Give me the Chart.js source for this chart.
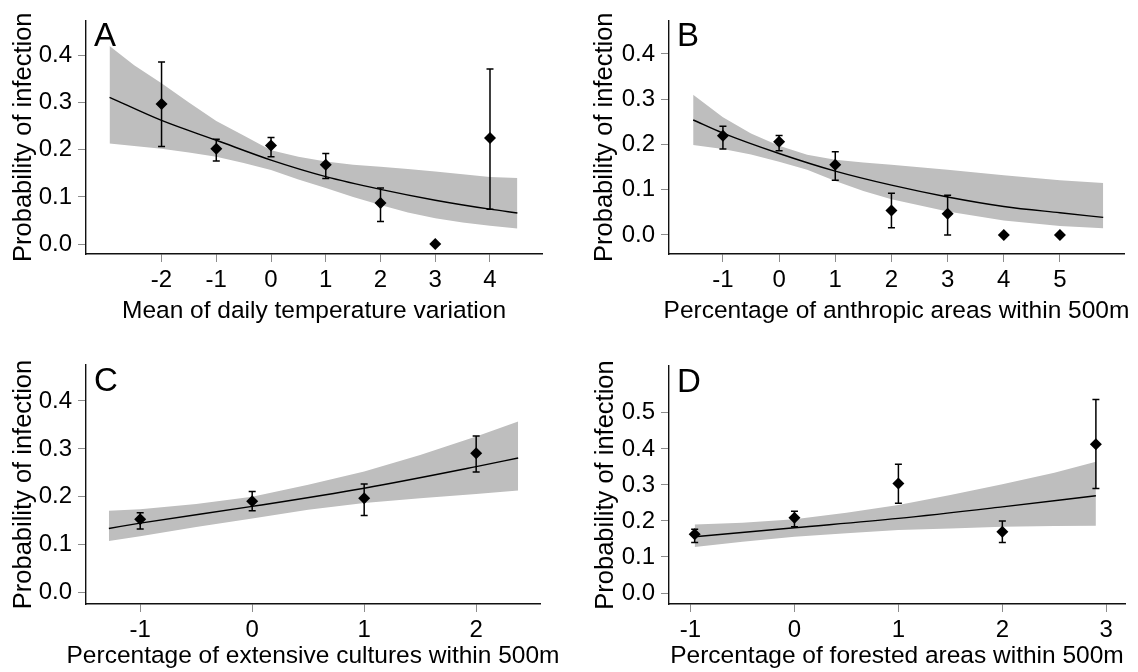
<!DOCTYPE html>
<html>
<head>
<meta charset="utf-8">
<script src="https://cdn.jsdelivr.net/npm/chart.js@4.4.0/dist/chart.umd.min.js"></script>
<style>
  body { margin: 0; background: #fff; width: 1138px; height: 672px; overflow: hidden; position: relative; }
  canvas { position: absolute; }
</style>
</head>
<body>
<canvas id="panelA" width="569" height="336" style="left:0;top:0"></canvas>
<canvas id="panelB" width="569" height="336" style="left:569px;top:0"></canvas>
<canvas id="panelC" width="569" height="336" style="left:0;top:336px"></canvas>
<canvas id="panelD" width="569" height="336" style="left:569px;top:336px"></canvas>
<script>
// A - mean of daily temperature variation
const tempX     = [-2, -1, 0, 1, 2, 3, 4];
const tempProb  = [0.297, 0.202, 0.209, 0.168, 0.087, 0.0, 0.225];
const tempLow   = [0.207, 0.176, 0.185, 0.139, 0.048, null, 0.074];
const tempHigh  = [0.386, 0.222, 0.226, 0.192, 0.119, null, 0.371];
const tempFitX  = [-2.95, -2, -1, 0, 1, 2, 3, 4, 4.5];
const tempFit   = [0.311, 0.262, 0.22, 0.178, 0.143, 0.116, 0.093, 0.074, 0.066];
const tempBandX = [-2.95, -2.5, -2, -1.5, -1, -0.5, 0, 0.5, 1, 1.5, 2, 2.5, 3, 3.5, 4, 4.5];
const tempUpper = [0.42, 0.379, 0.341, 0.3, 0.261, 0.23, 0.199, 0.185, 0.175, 0.168, 0.164, 0.159, 0.154, 0.148, 0.142, 0.14];
const tempLower = [0.213, 0.208, 0.202, 0.194, 0.185, 0.172, 0.157, 0.137, 0.119, 0.1, 0.083, 0.067, 0.055, 0.046, 0.039, 0.033];
const tempTicks = [-2, -1, 0, 1, 2, 3, 4];

// B - anthropic areas
const anthX     = [-1, 0, 1, 2, 3, 4, 5];
const anthProb  = [0.219, 0.206, 0.155, 0.054, 0.047, 0.0, 0.0];
const anthLow   = [0.19, 0.186, 0.121, 0.016, 0.0, null, null];
const anthHigh  = [0.24, 0.22, 0.184, 0.092, 0.088, null, null];
const anthFitX  = [-1.53, -1, 0, 1, 2, 3, 4, 5, 5.77];
const anthFit   = [0.254, 0.225, 0.18, 0.141, 0.11, 0.084, 0.063, 0.049, 0.039];
const anthBandX = [-1.53, -1, -0.5, 0, 0.5, 1, 1.5, 2, 3, 4, 5, 5.77];
const anthUpper = [0.31, 0.26, 0.224, 0.197, 0.177, 0.166, 0.16, 0.155, 0.144, 0.132, 0.121, 0.115];
const anthLower = [0.199, 0.19, 0.178, 0.162, 0.144, 0.119, 0.097, 0.079, 0.052, 0.032, 0.02, 0.015];
const anthTicks = [-1, 0, 1, 2, 3, 4, 5];

// C - extensive cultures
const cultX     = [-1, 0, 1, 2];
const cultProb  = [0.153, 0.191, 0.197, 0.291];
const cultLow   = [0.133, 0.171, 0.161, 0.252];
const cultHigh  = [0.167, 0.211, 0.227, 0.327];
const cultFitX  = [-1.28, -1, 0, 1, 2, 2.375];
const cultFit   = [0.134, 0.145, 0.18, 0.218, 0.263, 0.281];
const cultBandX = [-1.28, -1, -0.5, 0, 0.5, 1, 1.5, 2, 2.375];
const cultUpper = [0.171, 0.174, 0.185, 0.2, 0.225, 0.253, 0.287, 0.326, 0.357];
const cultLower = [0.108, 0.118, 0.137, 0.155, 0.173, 0.187, 0.197, 0.206, 0.213];
const cultTicks = [-1, 0, 1, 2];

// D - forested areas
const forX      = [-0.96, 0, 1, 2, 2.9];
const forProb   = [0.163, 0.209, 0.304, 0.17, 0.413];
const forLow    = [0.14, 0.184, 0.249, 0.14, 0.29];
const forHigh   = [0.177, 0.227, 0.357, 0.2, 0.537];
const forFitX   = [-0.96, 0, 1, 2, 2.9];
const forFit    = [0.156, 0.181, 0.207, 0.239, 0.27];
const forBandX  = [-0.96, -0.5, 0, 0.5, 1, 1.5, 2, 2.5, 2.9];
const forUpper  = [0.19, 0.195, 0.205, 0.223, 0.244, 0.272, 0.302, 0.334, 0.364];
const forLower  = [0.128, 0.142, 0.156, 0.166, 0.175, 0.179, 0.184, 0.186, 0.187];
const forTicks  = [-1, 0, 1, 2, 3];

const yTicksLow  = [0, 0.1, 0.2, 0.3, 0.4];
const yTicksHigh = [0, 0.1, 0.2, 0.3, 0.4, 0.5];
const yTitle = 'Probability of infection';

const FONT = '"Liberation Sans", Arial, sans-serif';
const pts = (xs, ys) => xs.map((v, i) => ({ x: v, y: ys[i] }));

function makePanel(id, p) {
  const errorBars = {
    id: 'errorBars',
    afterDatasetsDraw(chart) {
      const { ctx, scales: { x, y } } = chart;
      ctx.save();
      ctx.strokeStyle = '#000';
      ctx.lineWidth = 1.5;
      p.x.forEach((v, i) => {
        if (p.low[i] == null) return;
        const px = x.getPixelForValue(v);
        const top = y.getPixelForValue(p.high[i]);
        const bot = y.getPixelForValue(p.low[i]);
        ctx.beginPath();
        ctx.moveTo(px, top); ctx.lineTo(px, bot);
        ctx.moveTo(px - 3.5, top); ctx.lineTo(px + 3.5, top);
        ctx.moveTo(px - 3.5, bot); ctx.lineTo(px + 3.5, bot);
        ctx.stroke();
      });
      ctx.restore();
    }
  };
  // panel letter and axis titles (drawn here so they are not squeezed to the axis length)
  const labels = {
    id: 'labels',
    afterDraw(chart) {
      const { ctx, chartArea: a } = chart;
      ctx.save();
      ctx.fillStyle = '#000';
      ctx.textBaseline = 'alphabetic';
      ctx.textAlign = 'left';
      ctx.font = '33px ' + FONT;
      ctx.fillText(p.letter, a.left + 8, a.top + 26);

      ctx.font = '24.5px ' + FONT;
      ctx.textAlign = 'center';
      ctx.fillText(p.xTitle, (a.left + a.right) / 2, p.xTitleBase);

      ctx.textBaseline = 'middle';
      ctx.translate(p.yTitleX, (a.top + a.bottom) / 2);
      ctx.rotate(-Math.PI / 2);
      ctx.font = '25.5px ' + FONT;
      ctx.fillText(yTitle, 0, 0);
      ctx.restore();
    }
  };

  new Chart(document.getElementById(id), {
    type: 'scatter',
    data: {
      datasets: [
        { data: pts(p.bandX, p.upper), showLine: true, borderWidth: 0, pointRadius: 0,
          fill: '+1', backgroundColor: '#bebebe', order: 3 },
        { data: pts(p.bandX, p.lower), showLine: true, borderWidth: 0, pointRadius: 0,
          fill: false, order: 4 },
        { data: pts(p.fitX, p.fit), showLine: true, borderColor: '#000', borderWidth: 1.4,
          pointRadius: 0, fill: false, cubicInterpolationMode: 'monotone', order: 2 },
        { data: pts(p.x, p.prob), showLine: false, pointStyle: 'rectRot', pointRadius: 6,
          backgroundColor: '#000', borderColor: '#000', borderWidth: 0, order: 1 }
      ]
    },
    options: {
      responsive: false,
      animation: false,
      layout: { padding: { left: 0, top: p.top, right: p.right, bottom: 0 } },
      plugins: { legend: { display: false }, tooltip: { enabled: false } },
      scales: {
        x: {
          type: 'linear', min: p.xMin, max: p.xMax,
          afterBuildTicks: s => { s.ticks = p.xTicks.map(v => ({ value: v })); },
          afterFit: s => { s.height = p.xHeight; },
          grid: { drawOnChartArea: false, drawTicks: true, tickLength: 8, color: '#8c8c8c' },
          border: { display: true, color: '#111', width: 1.4 },
          ticks: { color: '#000', font: { family: FONT, size: 24 }, padding: 4, maxRotation: 0,
                   callback: v => String(v) }
        },
        y: {
          type: 'linear', min: p.yMin, max: p.yMax,
          afterBuildTicks: s => { s.ticks = p.yTicks.map(v => ({ value: v })); },
          afterFit: s => { s.width = p.yWidth; },
          grid: { drawOnChartArea: false, drawTicks: true, tickLength: 8, color: '#8c8c8c' },
          border: { display: true, color: '#111', width: 1.4 },
          ticks: { color: '#000', font: { family: FONT, size: 24 }, padding: 6,
                   callback: v => v.toFixed(1) }
        }
      }
    },
    plugins: [errorBars, labels]
  });
}

makePanel('panelA', {
  letter: 'A', xTitle: 'Mean of daily temperature variation',
  x: tempX, prob: tempProb, low: tempLow, high: tempHigh,
  fitX: tempFitX, fit: tempFit, bandX: tempBandX, upper: tempUpper, lower: tempLower,
  xTicks: tempTicks, yTicks: yTicksLow,
  xMin: -3.38, xMax: 4.95, yMin: -0.021, yMax: 0.474,
  top: 16, right: 27, yWidth: 86, xHeight: 82, xTitleBase: 318, yTitleX: 24
});
makePanel('panelB', {
  letter: 'B', xTitle: 'Percentage of anthropic areas within 500m',
  x: anthX, prob: anthProb, low: anthLow, high: anthHigh,
  fitX: anthFitX, fit: anthFit, bandX: anthBandX, upper: anthUpper, lower: anthLower,
  xTicks: anthTicks, yTicks: yTicksLow,
  xMin: -1.96, xMax: 6.14, yMin: -0.042, yMax: 0.474,
  top: 17, right: 14, yWidth: 100, xHeight: 82, xTitleBase: 318, yTitleX: 36
});
makePanel('panelC', {
  letter: 'C', xTitle: 'Percentage of extensive cultures within 500m',
  x: cultX, prob: cultProb, low: cultLow, high: cultHigh,
  fitX: cultFitX, fit: cultFit, bandX: cultBandX, upper: cultUpper, lower: cultLower,
  xTicks: cultTicks, yTicks: yTicksLow,
  xMin: -1.484, xMax: 2.57, yMin: -0.0236, yMax: 0.475,
  top: 29, right: 29, yWidth: 86, xHeight: 68, xTitleBase: 327, yTitleX: 24
});
makePanel('panelD', {
  letter: 'D', xTitle: 'Percentage of forested areas within 500m',
  x: forX, prob: forProb, low: forLow, high: forHigh,
  fitX: forFitX, fit: forFit, bandX: forBandX, upper: forUpper, lower: forLower,
  xTicks: forTicks, yTicks: yTicksHigh,
  xMin: -1.207, xMax: 3.18, yMin: -0.0305, yMax: 0.63,
  top: 30, right: 13, yWidth: 100, xHeight: 68, xTitleBase: 327, yTitleX: 37
});
</script>
</body>
</html>
